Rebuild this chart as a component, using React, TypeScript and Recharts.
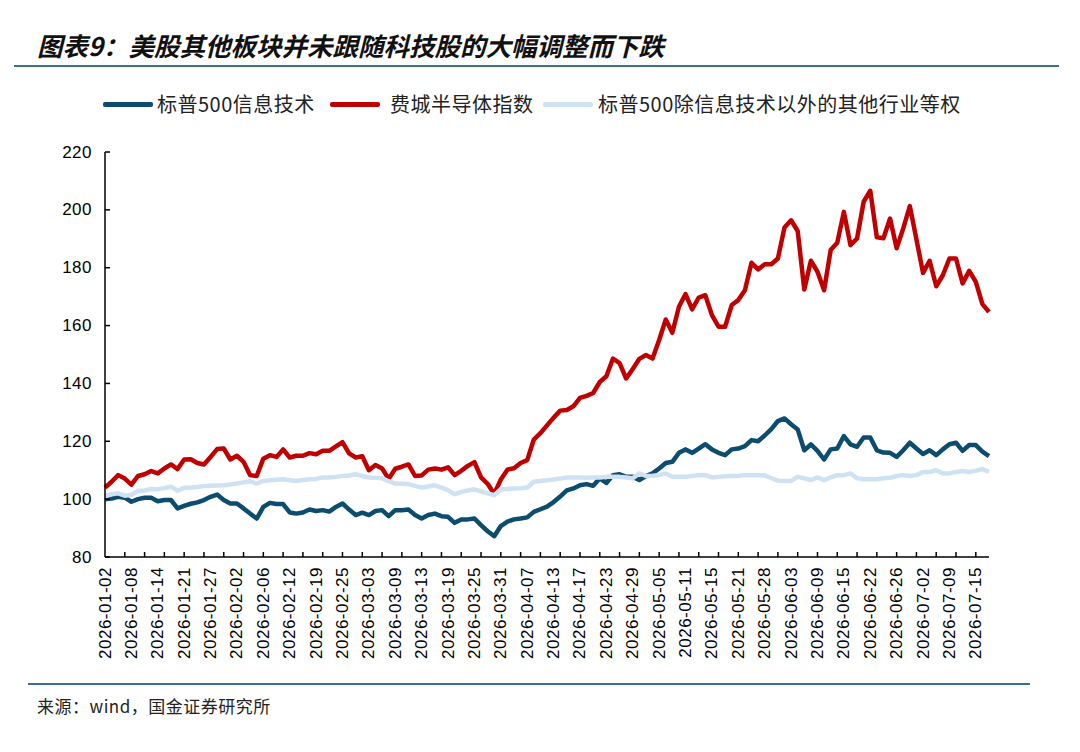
import React from "react"
import { LineChart, Line, XAxis, YAxis } from "recharts"

// trading days per month, 2026 (US market calendar)
const janDays = [2, 5, 6, 7, 8, 9, 12, 13, 14, 15, 16, 20, 21, 22, 23, 26, 27, 28, 29, 30]
const febDays = [2, 3, 4, 5, 6, 9, 10, 11, 12, 13, 17, 18, 19, 20, 23, 24, 25, 26, 27]
const marDays = [2, 3, 4, 5, 6, 9, 10, 11, 12, 13, 16, 17, 18, 19, 20, 23, 24, 25, 26, 27, 30, 31]
const aprDays = [1, 2, 6, 7, 8, 9, 10, 13, 14, 15, 16, 17, 20, 21, 22, 23, 24, 27, 28, 29, 30]
const mayDays = [1, 4, 5, 6, 7, 8, 11, 12, 13, 14, 15, 18, 19, 20, 21, 22, 26, 27, 28, 29]
const junDays = [1, 2, 3, 4, 5, 8, 9, 10, 11, 12, 15, 16, 17, 18, 22, 23, 24, 25, 26, 29, 30]
const julDays = [1, 2, 6, 7, 8, 9, 10, 13, 14, 15, 16, 17]

// 标普500信息技术
const spIT = [
  100.0, 100.2, 100.8, 100.5, 99.1, 100.0, 100.5, 100.5, 99.3, 99.7,
  99.7, 96.8, 97.7, 98.4, 98.9, 99.7, 100.8, 101.6, 99.7, 98.5,
  98.5, 96.8, 95.0, 93.3, 97.3, 98.7, 98.3, 98.3, 95.4, 95.0,
  95.4, 96.4, 95.9, 96.2, 95.7, 97.3, 98.5, 96.4, 94.5, 95.3,
  94.5, 95.9, 96.2, 94.1, 96.2, 96.2, 96.4, 94.5, 93.3, 94.5,
  95.0, 94.1, 93.9, 91.8, 93.0, 93.0, 93.3, 91.0, 88.9, 87.2,
  90.7, 92.2, 93.0, 93.3, 93.7, 95.6, 96.5, 97.4, 99.0, 100.9,
  103.0, 103.7, 104.8, 105.2, 104.6, 107.2, 105.6, 108.3, 108.6, 107.7,
  107.7, 106.6, 108.0, 108.9, 110.6, 112.5, 112.9, 116.0, 117.2, 116.0,
  117.5, 119.0, 117.2, 116.0, 115.2, 117.2, 117.5, 118.3, 120.4, 120.0,
  122.0, 124.2, 127.0, 127.9, 125.9, 124.1, 116.9, 118.9, 116.7, 113.7,
  117.2, 117.5, 121.8, 118.9, 118.1, 121.3, 121.3, 116.9, 116.1, 116.0,
  114.6, 116.9, 119.5, 117.5, 115.6, 116.9, 115.2, 117.2, 119.0, 119.5,
  116.7, 118.7, 118.7, 116.4, 114.9,
]

// 费城半导体指数
const sox = [
  104.0, 106.0, 108.3, 107.1, 105.0, 108.0, 108.6, 109.7, 108.9, 110.6,
  112.0, 110.4, 113.7, 113.8, 112.5, 112.0, 114.6, 117.3, 117.5, 113.7,
  115.0, 112.9, 108.3, 108.0, 114.0, 115.2, 114.6, 117.2, 114.4, 115.0,
  115.0, 115.9, 115.5, 116.7, 116.7, 118.2, 119.7, 115.8, 114.4, 114.8,
  110.0, 111.8, 110.6, 107.0, 110.5, 111.2, 112.0, 108.0, 108.2, 110.2,
  110.6, 110.2, 111.0, 108.3, 109.8, 111.5, 112.8, 107.5, 105.3, 101.8,
  106.8, 110.2, 110.7, 112.5, 113.5, 120.6, 122.8, 125.5, 128.1, 130.6,
  130.8, 132.1, 135.0, 135.7, 136.7, 140.5, 142.5, 148.6, 147.0, 141.7,
  145.0, 148.5, 149.8, 148.6, 155.0, 162.1, 157.5, 166.5, 170.9, 165.6,
  169.7, 170.5, 163.6, 159.6, 159.6, 167.1, 168.8, 172.2, 181.7, 179.4,
  181.2, 181.2, 183.2, 193.9, 196.4, 192.7, 172.5, 182.4, 178.6, 172.2,
  186.1, 188.6, 199.3, 187.8, 190.1, 202.8, 206.6, 190.5, 190.2, 197.0,
  186.7, 193.6, 201.3, 189.8, 178.2, 182.4, 173.6, 177.4, 183.2, 183.2,
  174.6, 178.9, 175.1, 167.4, 164.7,
]

// 标普500除信息技术以外的其他行业等权
const spExIT = [
  101.0, 101.7, 102.0, 101.2, 101.5, 102.8, 103.0, 103.5, 103.4, 103.8,
  104.3, 102.9, 103.9, 104.0, 104.2, 104.5, 104.6, 104.7, 104.8, 105.1,
  105.4, 105.8, 106.2, 105.4, 106.3, 106.5, 106.7, 106.9, 106.5, 106.3,
  106.6, 106.9, 107.0, 107.5, 107.5, 107.7, 108.0, 108.2, 108.6, 108.0,
  107.5, 107.4, 107.2, 106.2, 105.4, 105.3, 105.2, 104.6, 104.0, 104.4,
  104.8, 104.0, 103.1, 101.7, 102.5, 103.0, 103.4, 102.7, 102.0, 101.4,
  103.4, 103.5, 103.7, 103.8, 104.0, 106.0, 106.3, 106.5, 106.8, 107.1,
  107.5, 107.5, 107.5, 107.4, 107.5, 107.5, 107.7, 107.7, 107.7, 107.5,
  107.2, 108.9, 108.0, 108.1, 108.3, 108.9, 107.7, 107.7, 107.7, 108.0,
  108.3, 108.3, 107.5, 107.7, 107.9, 108.0, 108.1, 108.3, 108.3, 108.3,
  108.2, 107.3, 106.4, 106.3, 106.3, 107.7, 107.2, 106.6, 107.5, 106.6,
  107.5, 108.3, 108.3, 108.9, 107.2, 106.9, 106.9, 106.9, 107.2, 107.4,
  108.0, 108.3, 108.0, 108.3, 109.4, 109.4, 110.0, 108.9, 108.9, 109.4,
  109.7, 109.4, 109.8, 110.4, 109.4,
]

const yTicks = [80, 100, 120, 140, 160, 180, 200, 220]

const months: [string, number[]][] = [
  ["01", janDays], ["02", febDays], ["03", marDays], ["04", aprDays],
  ["05", mayDays], ["06", junDays], ["07", julDays],
]
const dates = months.flatMap(([m, days]) =>
  days.map((d) => `2026-${m}-${String(d).padStart(2, "0")}`)
)

const data = dates.map((date, i) => ({
  date,
  spIT: spIT[i],
  sox: sox[i],
  spExIT: spExIT[i],
}))

const BLUE = "#0c4c6f"
const RED = "#c00000"
const LIGHT = "#cfe2f3"
const RULE = "#3a6f8f"

const PLOT_LEFT = 105
const PLOT_BOTTOM = 557
const AXIS_FONT = "'Liberation Sans', Arial, sans-serif"
const CJK_FONT = "'Noto Sans CJK SC', 'Noto Sans', sans-serif"

function DateTick(props: any) {
  const { x, payload } = props
  const i = payload?.index ?? props.index
  return (
    <g>
      {i % 3 === 0 && i > 0 && (
        <line x1={x} x2={x} y1={PLOT_BOTTOM} y2={PLOT_BOTTOM - 5} stroke="#000" strokeWidth={1.5} />
      )}
      {i % 4 === 0 && (
        <text
          transform={`translate(${x},${PLOT_BOTTOM + 10}) rotate(-90)`}
          textAnchor="end"
          dominantBaseline="central"
          fontSize={17}
          letterSpacing={0.5}
          fontFamily={AXIS_FONT}
          fill="#000"
        >
          {payload.value}
        </text>
      )}
    </g>
  )
}

function ValueTick(props: any) {
  const { y, payload } = props
  return (
    <g>
      <line x1={PLOT_LEFT} x2={PLOT_LEFT + 5} y1={y} y2={y} stroke="#000" strokeWidth={1.5} />
      <text
        x={PLOT_LEFT - 13}
        y={y}
        textAnchor="end"
        dominantBaseline="central"
        fontSize={17}
        letterSpacing={0.5}
        fontFamily={AXIS_FONT}
        fill="#000"
      >
        {payload.value}
      </text>
    </g>
  )
}

const legendItems = [
  { label: "标普500信息技术", color: BLUE, swatch: 103, text: 157 },
  { label: "费城半导体指数", color: RED, swatch: 330, text: 390 },
  { label: "标普500除信息技术以外的其他行业等权", color: LIGHT, swatch: 543, text: 598 },
]

export default function App() {
  return (
    <div style={{ position: "absolute", left: 0, top: 0, width: 1080, height: 752, background: "#fff", overflow: "hidden" }}>
      <div
        style={{
          position: "absolute", left: 37, top: 29, fontSize: 25.5, lineHeight: "32px",
          fontWeight: 700, fontStyle: "italic", fontFamily: CJK_FONT, color: "#111", whiteSpace: "nowrap",
        }}
      >
        图表9：美股其他板块并未跟随科技股的大幅调整而下跌
      </div>
      <div style={{ position: "absolute", left: 14, top: 65, width: 1045, height: 2, background: RULE }} />

      {legendItems.map((it) => (
        <React.Fragment key={it.label}>
          <div style={{ position: "absolute", left: it.swatch, top: 102, width: 50, height: 5, borderRadius: 2, background: it.color }} />
          <div
            style={{
              position: "absolute", left: it.text, top: 90, fontSize: 20, letterSpacing: 0.5, lineHeight: "28px",
              fontFamily: CJK_FONT, color: "#222", whiteSpace: "nowrap",
            }}
          >
            {it.label}
          </div>
        </React.Fragment>
      ))}

      <div style={{ position: "absolute", left: 0, top: 0 }}>
        <LineChart width={1080} height={752} data={data} margin={{ top: 152, right: 91, left: 45, bottom: 95 }}>
          <XAxis
            dataKey="date"
            interval={0}
            height={100}
            tickLine={false}
            axisLine={{ stroke: "#000", strokeWidth: 1.5 }}
            tick={<DateTick />}
          />
          <YAxis
            domain={[80, 220]}
            ticks={yTicks}
            width={60}
            tickLine={false}
            axisLine={{ stroke: "#000", strokeWidth: 1.5 }}
            tick={<ValueTick />}
          />
          <Line type="linear" dataKey="spIT" stroke={BLUE} strokeWidth={4.5} strokeLinejoin="round" dot={false} isAnimationActive={false} />
          <Line type="linear" dataKey="sox" stroke={RED} strokeWidth={4.5} strokeLinejoin="round" dot={false} isAnimationActive={false} />
          <Line type="linear" dataKey="spExIT" stroke={LIGHT} strokeWidth={4.5} strokeLinejoin="round" dot={false} isAnimationActive={false} />
        </LineChart>
      </div>

      <div style={{ position: "absolute", left: 28, top: 683, width: 1002, height: 2, background: RULE }} />
      <div
        style={{
          position: "absolute", left: 37, top: 695, fontSize: 17, letterSpacing: 0.5, lineHeight: "22px",
          fontFamily: CJK_FONT, color: "#222", whiteSpace: "nowrap",
        }}
      >
        来源：wind，国金证券研究所
      </div>
    </div>
  )
}
